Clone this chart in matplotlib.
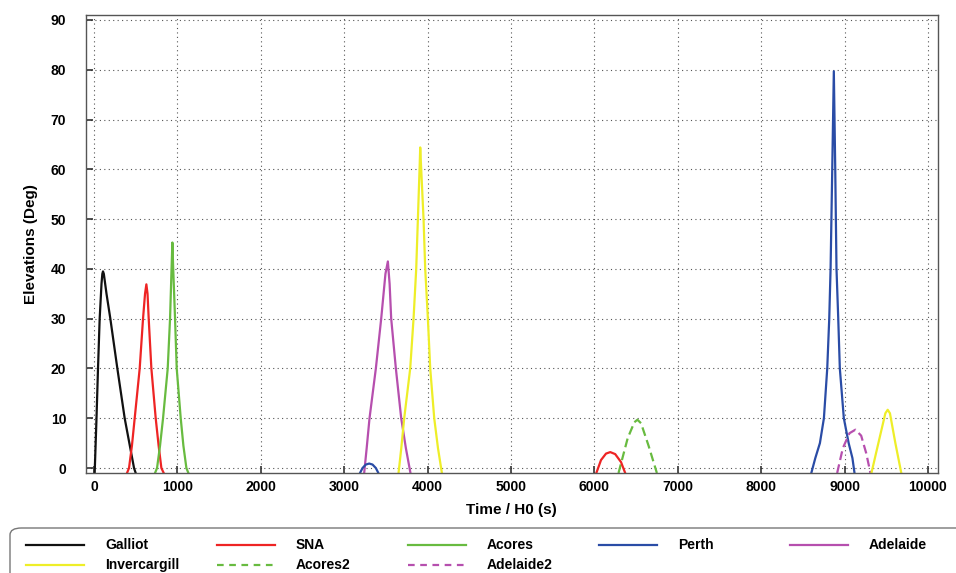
import matplotlib
matplotlib.use('Agg')
import matplotlib.pyplot as plt
from matplotlib.lines import Line2D
from matplotlib.patches import FancyBboxPatch

plt.rcParams['font.family'] = ['Liberation Sans Narrow', 'Liberation Sans', 'DejaVu Sans']
plt.rcParams['font.weight'] = 'bold'

# elevation passes (time in s, elevation in deg)
galliot_t = [8, 30, 48, 68, 90, 100, 108, 118, 150, 196, 280, 368, 480, 500]
galliot_e = [-1, 10, 20, 30, 37, 39, 39.5, 39, 35, 30, 20, 10, 0, -1]

sna_t = [396, 420, 455, 488, 548, 588, 612, 628, 642, 656, 688, 740, 775, 808, 836]
sna_e = [-1, 0, 4.5, 10, 20, 30, 35, 36.9, 35, 30, 20, 10, 4.5, 0, -1]

acores_t = [732, 756, 792, 828, 884, 912, 930, 940, 950, 972, 992, 1040, 1072, 1108, 1132]
acores_e = [-1, 0, 4.5, 10, 20, 30, 40, 45.3, 40, 30, 20, 10, 4.5, 0, -1]

perth1_t = [3190, 3220, 3260, 3300, 3340, 3380, 3410]
perth1_e = [-1, 0, 0.7, 0.9, 0.7, 0, -1]

adelaide_t = [3240, 3270, 3304, 3380, 3444, 3495, 3524, 3545, 3564, 3620, 3684, 3740, 3795]
adelaide_e = [-1, 4, 10, 20, 30, 39, 41.5, 37, 30, 20, 10, 4, -1]

inver_t = [3652, 3685, 3720, 3792, 3832, 3864, 3884, 3904, 3912, 3924, 3952, 3972, 4004, 4032, 4080, 4125, 4172]
inver_e = [-1, 4, 10, 20, 30, 40, 50, 60, 64.4, 60, 50, 40, 30, 20, 10, 4, -1]

sna2_t = [6024, 6080, 6140, 6191, 6250, 6320, 6370]
sna2_e = [-1, 1.6, 2.9, 3.2, 2.8, 1.2, -1]

acores2_t = [6290, 6400, 6480, 6517, 6560, 6650, 6750]
acores2_e = [-1, 6, 9.2, 9.7, 9, 4.5, -1]

perth_t = [8602, 8650, 8705, 8753, 8793, 8817, 8833, 8853, 8872, 8889, 8904, 8925, 8944, 8992, 9050, 9095, 9120]
perth_e = [-1, 2, 5, 10, 20, 30, 40, 60, 79.7, 60, 40, 30, 20, 10, 5, 2, -1]

adelaide2_t = [8912, 8980, 9060, 9131, 9200, 9260, 9311]
adelaide2_e = [-1, 4, 7, 7.7, 6.5, 3, -1]

inver2_t = [9323, 9420, 9490, 9518, 9545, 9610, 9681]
inver2_e = [-1, 6, 11, 11.7, 11, 5, -1]

c_black = '#111111'
c_red = '#ee2424'
c_green = '#68bb40'
c_blue = '#2a4ca6'
c_mag = '#b64fae'
c_yel = '#eeee28'

# (label, times, elevations, colour, style, in legend)
series = [
    ('Galliot', galliot_t, galliot_e, c_black, '-', True),
    ('SNA', sna_t, sna_e, c_red, '-', True),
    ('Acores', acores_t, acores_e, c_green, '-', True),
    ('Perth', perth_t, perth_e, c_blue, '-', True),
    ('Adelaide', adelaide_t, adelaide_e, c_mag, '-', True),
    ('Invercargill', inver_t, inver_e, c_yel, '-', True),
    ('Acores2', acores2_t, acores2_e, c_green, '--', True),
    ('Adelaide2', adelaide2_t, adelaide2_e, c_mag, '--', True),
    (None, sna2_t, sna2_e, c_red, '-', False),
    (None, perth1_t, perth1_e, c_blue, '-', False),
    (None, inver2_t, inver2_e, c_yel, '-', False),
]

fig = plt.figure(figsize=(9.56, 5.73), dpi=100)
ax = fig.add_axes([0.0896, 0.1745, 0.8919, 0.7993])

for lab, t, e, col, ls, leg in series:
    ln, = ax.plot(t, e, color=col, lw=1.6, linestyle=ls)
    if ls == '--':
        ln.set_dashes((4, 2))

ax.set_xlim(-100, 10125)
ax.set_ylim(-1, 91)
ax.set_xticks(range(0, 10001, 1000))
ax.set_yticks(range(0, 91, 10))
ax.grid(True, color='#555555', linestyle=(0, (1, 3)), lw=0.8)
ax.tick_params(direction='in', length=5, width=1.2, color='#333333', labelsize=10)
ax.tick_params(axis='y', pad=14)
ax.tick_params(axis='x', pad=5)
for sp in ax.spines.values():
    sp.set_color('#555555')
    sp.set_linewidth(1.0)

ax.set_xlabel('Time / H0 (s)', fontsize=11, fontweight='bold')
ax.set_ylabel('Elevations (Deg)', fontsize=11, fontweight='bold')
ax.xaxis.set_label_coords(0.499, -0.065)
ax.yaxis.set_label_coords(-0.056, 0.5)

# legend box below the plot, cut off by the figure edge like the original
W, H = 956.0, 573.0
box = FancyBboxPatch((10 / W, -0.2), 1.2, 0.2 + (H - 528) / H,
                     boxstyle='round,pad=0,rounding_size=0.012',
                     transform=fig.transFigure, facecolor='white',
                     edgecolor='#777777', lw=1.0, clip_on=False)
fig.add_artist(box)

legend_items = [s for s in series if s[5]]
for i, (lab, t, e, col, ls, leg) in enumerate(legend_items):
    row, colno = divmod(i, 5)
    x0 = 26 + colno * 191
    y = 545 + row * 20
    hl = Line2D([x0 / W, (x0 + 58) / W], [1 - y / H, 1 - y / H],
                transform=fig.transFigure, color=col, lw=1.6, linestyle=ls)
    if ls == '--':
        hl.set_dashes((3, 2.5))
    fig.add_artist(hl)
    fig.text((x0 + 79) / W, 1 - y / H, lab, fontsize=10, fontweight='bold',
             va='center', ha='left')

plt.savefig('out.png', dpi=100)
